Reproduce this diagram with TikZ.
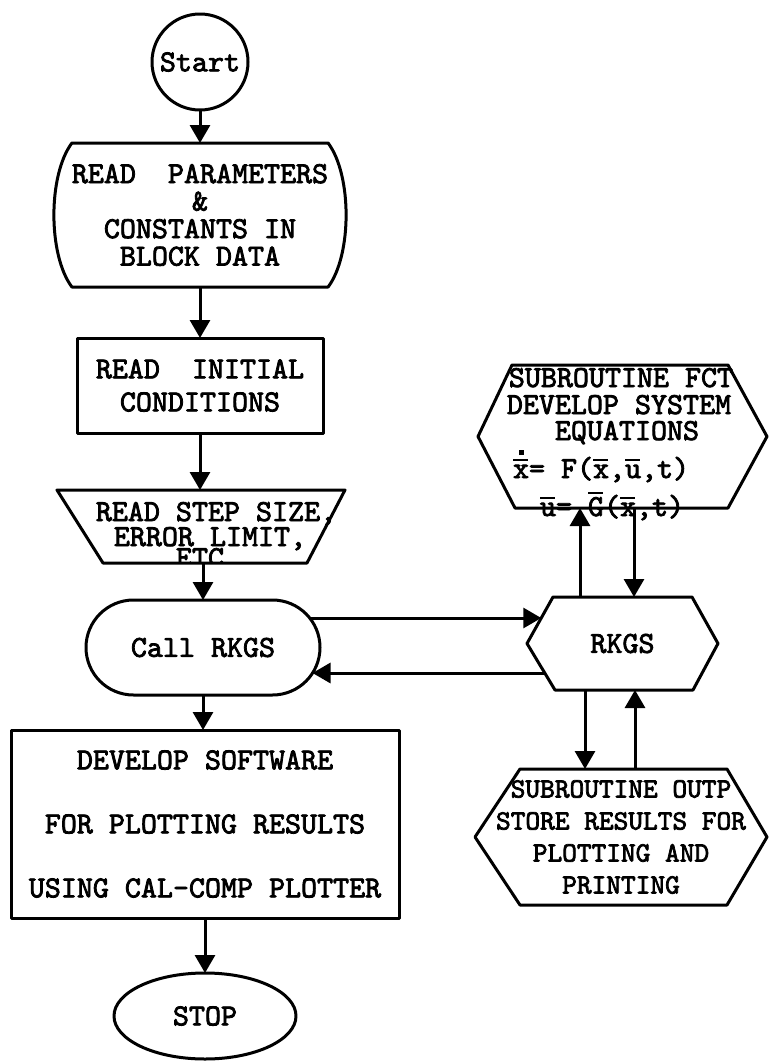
\documentclass[tikz,border=0pt]{standalone}
\usepackage{fontspec}
\newfontfamily\tw[FakeBold=2.6]{lmmono10-regular.otf}
\usetikzlibrary{arrows.meta,shapes.geometric,shapes.misc,calc}

% overbar (and overbar with dot) on a single typewriter character
\newcommand\ovb[2][17pt]{\rlap{\rule[#1]{15pt}{2.2pt}}#2}
\newcommand\dotbar[1]{\rlap{\rule[17pt]{15pt}{2.2pt}}\rlap{\hspace{5.5pt}\rule[23pt]{5pt}{5pt}}#1}

\tikzset{
  every node/.style={inner sep=0pt, outer sep=0pt},
  outline/.style={draw, line width=3pt, line join=round},
  arr/.style={line width=3pt, -{Triangle[width=20pt,length=18pt]}},
  txt/.style={font=\tw\fontsize{30.5}{27.5}\selectfont, align=center},
}

\begin{document}
\begin{tikzpicture}[x=1pt, y=-1pt]
\useasboundingbox (0,0) rectangle (772,1061);
\fill[white] (0,0) rectangle (772,1061);

% ---- main column ----
\node[outline, circle, minimum size=96pt, txt] (start) at (200,62) {Start};

\node[txt, minimum width=252pt, minimum height=144pt] (params) at (200,215)
  {READ\ \ PARAMETERS\\\&\\CONSTANTS IN\\BLOCK DATA};
\draw[outline] (params.north west) -- (params.north east)
  .. controls ($(params.north east)+(24,32)$) and ($(params.south east)+(24,-32)$) .. (params.south east)
  -- (params.south west)
  .. controls ($(params.south west)+(-24,-32)$) and ($(params.north west)+(-24,32)$) .. cycle;

\node[outline, rectangle, minimum width=246pt, minimum height=95pt, txt,
      font=\tw\fontsize{30.5}{33}\selectfont] (init) at (200,385.5)
  {READ\ \ INITIAL\\CONDITIONS};

\node[minimum width=288pt, minimum height=73pt] (step) at (201,526.5) {};
\draw[outline] (step.north west) -- (step.north east)
  -- ($(step.south east)+(-38,0)$) -- ($(step.south west)+(46,0)$) -- cycle;
\node[txt, anchor=base] (step1) at (216,521) {READ STEP SIZE,};
\node[txt, anchor=base] (step2) at (210,546) {ERROR LIMIT,};
\begin{scope}
  \clip (step.north west) -- (step.north east)
    -- ($(step.south east)+(-38,0)$) -- ($(step.south west)+(46,0)$) -- cycle;
  \node[txt, anchor=base] (step3) at (200,567) {ETC};
\end{scope}

\node[outline, rounded rectangle, minimum width=234pt, minimum height=95pt, txt] (call) at (203,647.5) {Call RKGS};

\node[outline, rectangle, minimum width=388pt, minimum height=188pt, txt,
      font=\tw\fontsize{30.5}{64}\selectfont] (dev) at (205,824)
  {DEVELOP SOFTWARE\\FOR PLOTTING RESULTS\\USING CAL-COMP PLOTTER};

\node[outline, ellipse, minimum width=182pt, minimum height=86pt, txt] (stop) at (205,1016) {STOP};

% ---- subroutine column ----
\node[txt, minimum width=191pt, minimum height=93pt] (rkgs) at (622.5,643.5) {RKGS};
\draw[outline] (rkgs.west) -- ($(rkgs.north west)+(26,0)$) -- ($(rkgs.north east)+(-26,0)$)
  -- (rkgs.east) -- ($(rkgs.south east)+(-25,0)$) -- ($(rkgs.south west)+(28,0)$) -- cycle;

\node[minimum width=289pt, minimum height=143pt] (fct) at (622.5,436.5) {};
\draw[outline] (fct.west) -- ($(fct.north west)+(34,0)$) -- ($(fct.north east)+(-39,0)$)
  -- (fct.east) -- ($(fct.south east)+(-39,0)$) -- ($(fct.south west)+(37,0)$) -- cycle;
\node[txt, anchor=base] (fct1) at (621,387) {SUBROUTINE FCT};
\node[txt, anchor=base] (fct2) at (619,414) {DEVELOP SYSTEM};
\node[txt, anchor=base] (fct3) at (627,440) {EQUATIONS};
\node[txt, anchor=base west] (fct4) at (513,478) {\dotbar{x}= F(\ovb{x},\ovb{u},t)};
\node[txt, anchor=base west] (fct5) at (540,516) {\ovb{u}= \ovb[22pt]{G}(\ovb{x},t)};

\node[txt, minimum width=292pt, minimum height=136pt,
      font=\tw\fontsize{28}{32}\selectfont] (outp) at (621,837)
  {SUBROUTINE OUTP\\STORE RESULTS FOR\\PLOTTING AND\\PRINTING};
\draw[outline] (outp.west) -- ($(outp.north west)+(45,0)$) -- ($(outp.north east)+(-40,0)$)
  -- (outp.east) -- ($(outp.south east)+(-40,0)$) -- ($(outp.south west)+(45,0)$) -- cycle;

% ---- connectors ----
\draw[arr] (start.south) -- (params.north);
\draw[arr] (params.south) -- (init.north);
\draw[arr] (init.south) -- (init.south |- step.north);
\draw[arr] (step.south -| call.north) -- (call.north);
\draw[arr] (call.south) -- (call.south |- dev.north);
\draw[arr] (dev.south) -- (dev.south |- stop.north);

\draw[arr] ($(call.east)+(-10,-29.5)$) -- ($(rkgs.west)+(14.3,-25.5)$);
\draw[arr] ($(rkgs.west)+(17.8,29.5)$) -- ($(call.east)+(-7.5,25.5)$);

\draw[arr] ($(rkgs.north)+(-42.5,0)$) -- ($(fct.south)+(-42.5,0)$);
\draw[arr] ($(fct.south)+(11.5,0)$) -- ($(rkgs.north)+(11.5,0)$);

\draw[arr] ($(rkgs.south)+(-37.5,0)$) -- ($(outp.north)+(-36,0)$);
\draw[arr] ($(outp.north)+(14,0)$) -- ($(rkgs.south)+(12.5,0)$);
\end{tikzpicture}
\end{document}
